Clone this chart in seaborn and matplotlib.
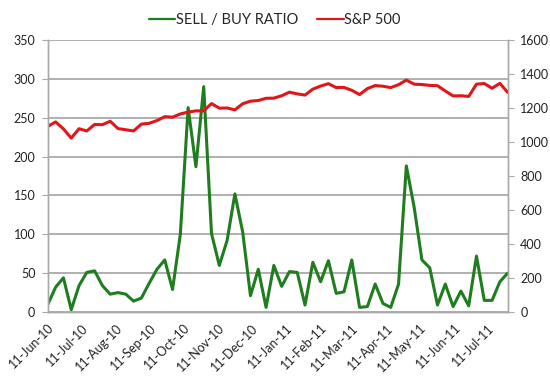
import pandas as pd
import numpy as np
import matplotlib
matplotlib.use("Agg")
import matplotlib.pyplot as plt
import matplotlib.dates as mdates
import seaborn as sns

# weekly fridays, 11-Jun-10 .. 29-Jul-11
weeks = pd.date_range("2010-06-11", periods=60, freq="7D")

sell_buy = [10, 32, 44, 3, 34, 51, 53, 34, 23, 25,
            23, 14, 18, 37, 55, 67, 29, 100, 263, 187,
            290, 101, 60, 92, 152, 103, 21, 55, 6, 60,
            33, 52, 51, 9, 64, 39, 66, 24, 26, 67,
            6, 7, 36, 11, 6, 36, 188, 135, 67, 57,
            9, 36, 7, 27, 8, 72, 15, 15, 39, 50]

sp500 = [1092, 1118, 1077, 1023, 1078, 1065, 1103, 1102, 1122, 1079,
         1072, 1065, 1105, 1110, 1126, 1149, 1146, 1165, 1176, 1183,
         1183, 1226, 1199, 1200, 1189, 1225, 1240, 1244, 1257, 1258,
         1272, 1293, 1283, 1276, 1311, 1329, 1343, 1320, 1321, 1304,
         1279, 1314, 1332, 1328, 1320, 1337, 1364, 1340, 1338, 1333,
         1331, 1300, 1271, 1272, 1268, 1340, 1344, 1316, 1345, 1292]

green = "#1f7d1f"
red = "#e0161b"
grey = "#a9a9a9"

sns.set_style("white")
plt.rcParams["font.family"] = ["Lato", "DejaVu Sans"]

fig = plt.figure(figsize=(5.5, 3.92), dpi=100)
ax = fig.add_axes([0.087, 0.204, 0.836, 0.694])
ax2 = ax.twinx()

sns.lineplot(x=weeks, y=sell_buy, ax=ax, color=green, linewidth=2.2, legend=False)
sns.lineplot(x=weeks, y=sp500, ax=ax2, color=red, linewidth=2.2, legend=False)

ax.set_ylim(0, 350)
ax.set_yticks(range(0, 351, 50))
ax2.set_ylim(0, 1600)
ax2.set_yticks(range(0, 1601, 200))
ax.set_xlim(weeks[0], weeks[-1])

ax.xaxis.set_major_locator(mdates.MonthLocator(bymonthday=11))
ax.xaxis.set_major_formatter(mdates.DateFormatter("%d-%b-%y"))
plt.setp(ax.get_xticklabels(), rotation=45, ha="right", rotation_mode="anchor")

ax.yaxis.grid(True, color=grey, linewidth=1.3)
ax.set_axisbelow(True)
for a in (ax, ax2):
    for s in a.spines.values():
        s.set_color(grey)
        s.set_linewidth(1)
    a.spines["top"].set_visible(False)
    a.tick_params(axis="both", direction="out", length=4, color=grey,
                  labelsize=9, labelcolor="#222222")
    a.set_xlabel("")
    a.set_ylabel("")
ax.tick_params(axis="x", pad=3)
ax.tick_params(axis="y", left=True, pad=5)
ax2.tick_params(axis="y", right=True, pad=5)

handles = [plt.Line2D([], [], color=green, linewidth=1.6),
           plt.Line2D([], [], color=red, linewidth=1.6)]
fig.legend(handles, ["SELL / BUY RATIO", "S&P 500"], loc="upper center",
           bbox_to_anchor=(0.5, 1.0), ncol=2, frameon=False, fontsize=10.5,
           handlelength=1.8, handletextpad=0.05, columnspacing=1.3)

fig.savefig("out.png", dpi=100)
